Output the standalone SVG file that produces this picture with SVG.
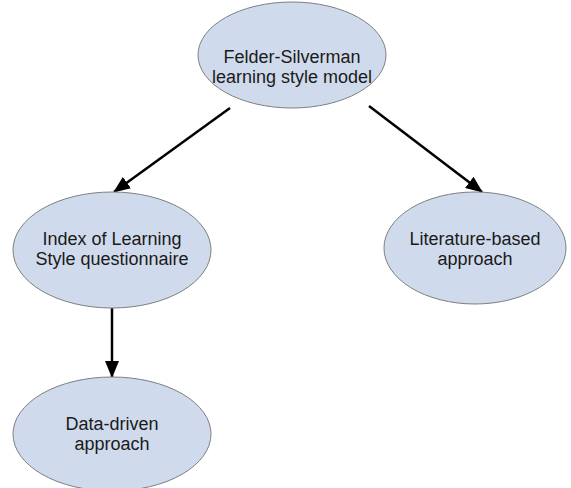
<svg xmlns="http://www.w3.org/2000/svg" width="571" height="488" viewBox="0 0 571 488">
<style>
.node ellipse{fill:#cfdbec;stroke:#7f7f7f;stroke-width:1}
.node text{font-family:"Liberation Sans",Arial,sans-serif;font-size:18px;fill:#1a1a1a;text-anchor:middle}
.edge{stroke:#000;stroke-width:2.5;fill:none;marker-end:url(#ah)}
</style>
<defs>
<marker id="ah" markerWidth="17" markerHeight="14" refX="16" refY="7" orient="auto" markerUnits="userSpaceOnUse" viewBox="0 0 17 14">
<path d="M0,0 L17,7 L0,14 z" fill="#000"/>
</marker>
</defs>
<rect width="571" height="488" fill="#fff"/>
<g id="connectors">
<path class="edge" d="M230,108 L114,192"/>
<path class="edge" d="M369,106 L482,192"/>
<path class="edge" d="M112,308 L112,377"/>
</g>
<g id="felder" class="node">
<ellipse cx="292" cy="55" rx="94" ry="53"/>
<text x="292" y="63">Felder-Silverman</text>
<text x="292" y="83">learning style model</text>
</g>
<g id="ils" class="node">
<ellipse cx="112" cy="250" rx="99" ry="58"/>
<text x="112" y="245">Index of Learning</text>
<text x="112" y="265">Style questionnaire</text>
</g>
<g id="literature" class="node">
<ellipse cx="475" cy="248" rx="91" ry="56"/>
<text x="475" y="245">Literature-based</text>
<text x="475" y="265">approach</text>
</g>
<g id="datadriven" class="node">
<ellipse cx="112" cy="434" rx="99" ry="57"/>
<text x="112" y="430">Data-driven</text>
<text x="112" y="450">approach</text>
</g>
</svg>
